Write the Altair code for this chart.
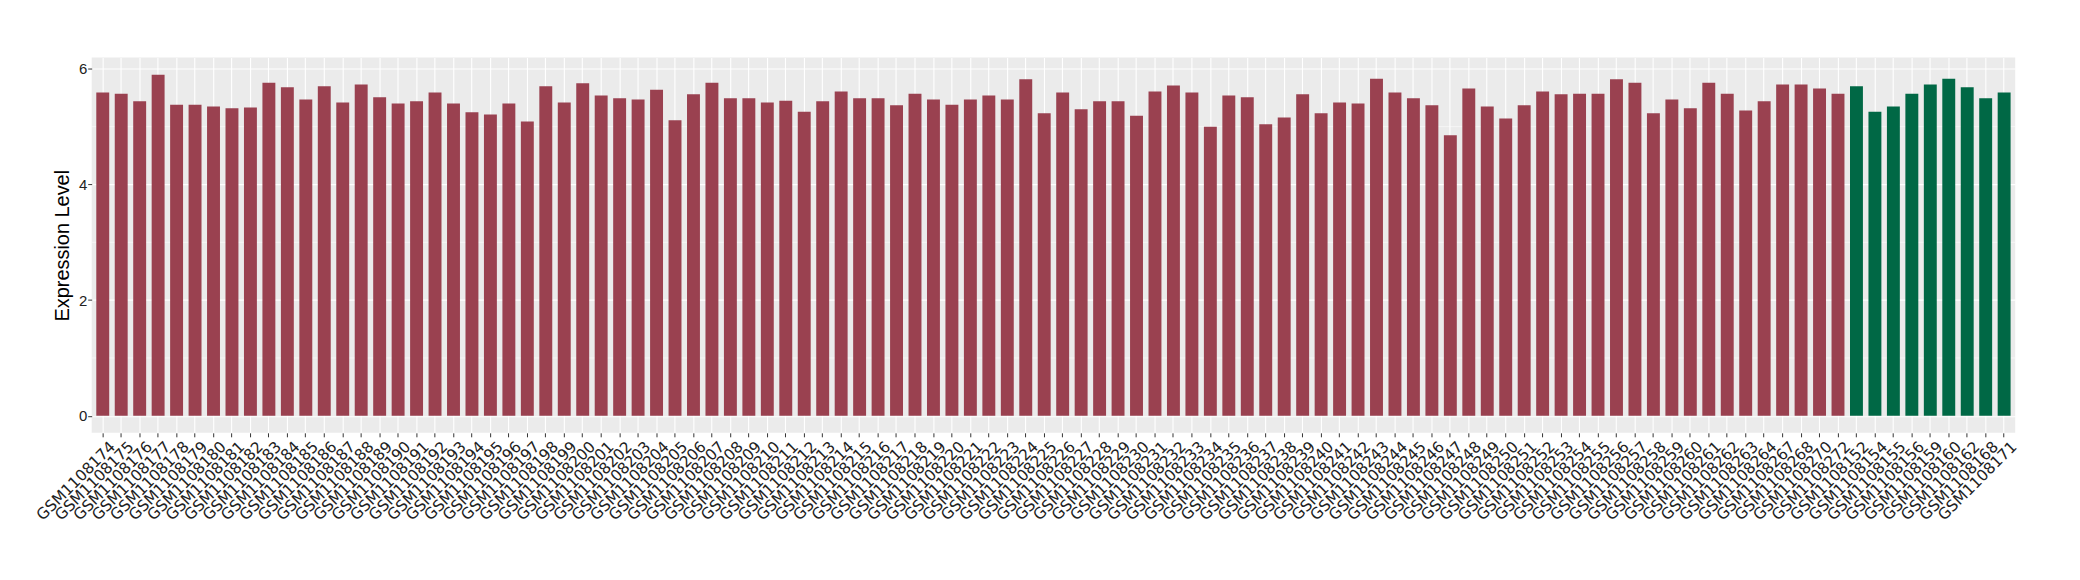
import altair as alt
import pandas as pd

samples = [
    "GSM1108174", "GSM1108175", "GSM1108176", "GSM1108177", "GSM1108178", "GSM1108179",
    "GSM1108180", "GSM1108181", "GSM1108182", "GSM1108183", "GSM1108184", "GSM1108185",
    "GSM1108186", "GSM1108187", "GSM1108188", "GSM1108189", "GSM1108190", "GSM1108191",
    "GSM1108192", "GSM1108193", "GSM1108194", "GSM1108195", "GSM1108196", "GSM1108197",
    "GSM1108198", "GSM1108199", "GSM1108200", "GSM1108201", "GSM1108202", "GSM1108203",
    "GSM1108204", "GSM1108205", "GSM1108206", "GSM1108207", "GSM1108208", "GSM1108209",
    "GSM1108210", "GSM1108211", "GSM1108212", "GSM1108213", "GSM1108214", "GSM1108215",
    "GSM1108216", "GSM1108217", "GSM1108218", "GSM1108219", "GSM1108220", "GSM1108221",
    "GSM1108222", "GSM1108223", "GSM1108224", "GSM1108225", "GSM1108226", "GSM1108227",
    "GSM1108228", "GSM1108229", "GSM1108230", "GSM1108231", "GSM1108232", "GSM1108233",
    "GSM1108234", "GSM1108235", "GSM1108236", "GSM1108237", "GSM1108238", "GSM1108239",
    "GSM1108240", "GSM1108241", "GSM1108242", "GSM1108243", "GSM1108244", "GSM1108245",
    "GSM1108246", "GSM1108247", "GSM1108248", "GSM1108249", "GSM1108250", "GSM1108251",
    "GSM1108252", "GSM1108253", "GSM1108254", "GSM1108255", "GSM1108256", "GSM1108257",
    "GSM1108258", "GSM1108259", "GSM1108260", "GSM1108261", "GSM1108262", "GSM1108263",
    "GSM1108264", "GSM1108267", "GSM1108268", "GSM1108270", "GSM1108272",
    "GSM1108152", "GSM1108154", "GSM1108155", "GSM1108156", "GSM1108159", "GSM1108160",
    "GSM1108162", "GSM1108168", "GSM1108171",
]

values = [
    5.59, 5.57, 5.44, 5.90, 5.38, 5.38, 5.35, 5.32, 5.33, 5.76, 5.68, 5.47,
    5.70, 5.42, 5.73, 5.51, 5.40, 5.44, 5.59, 5.40, 5.25, 5.21, 5.40, 5.09,
    5.70, 5.42, 5.75, 5.54, 5.49, 5.47, 5.64, 5.11, 5.56, 5.76, 5.49, 5.49,
    5.42, 5.45, 5.26, 5.44, 5.61, 5.49, 5.49, 5.37, 5.57, 5.47, 5.38, 5.47,
    5.54, 5.47, 5.82, 5.23, 5.59, 5.30, 5.44, 5.44, 5.19, 5.61, 5.71, 5.59,
    5.00, 5.54, 5.51, 5.04, 5.16, 5.56, 5.23, 5.42, 5.40, 5.83, 5.59, 5.49,
    5.37, 4.85, 5.66, 5.35, 5.14, 5.37, 5.61, 5.56, 5.57, 5.57, 5.82, 5.76,
    5.23, 5.47, 5.32, 5.76, 5.57, 5.28, 5.44, 5.73, 5.73, 5.66, 5.57,
    5.70, 5.26, 5.35, 5.57, 5.73, 5.83, 5.68, 5.49, 5.59,
]

groups = ["A"] * 95 + ["B"] * 9
group_colors = ["#9A4150", "#006845"]
y_ticks = [0, 2, 4, 6]
minor_ticks = [1, 3, 5]

df = pd.DataFrame({"sample": samples, "value": values, "group": groups})
minor_df = pd.DataFrame({"m": minor_ticks})

FONT = "Liberation Sans"
XFONT = "DejaVu Sans"

x_enc = alt.X(
    "sample:N",
    sort=samples,
    title=None,
    scale=alt.Scale(paddingInner=0.3, paddingOuter=0.25),
    axis=alt.Axis(
        bandPosition=0.5,
        labelAngle=-45,
        labelAlign="right",
        labelBaseline="top",
        labelFontSize=15.5,
        labelColor="#222222",
        labelFont=XFONT,
        labelPadding=2,
        labelOffset=5,
        labelOverlap=False,
        labelLimit=0,
        tickSize=4,
        tickColor="#333333",
        tickWidth=1,
        domain=False,
        grid=True,
        gridColor="white",
        gridWidth=1.1,
    ),
)

y_scale = alt.Scale(domain=[-0.295, 6.195], nice=False, zero=False)

bars = alt.Chart(df).mark_bar().encode(
    x=x_enc,
    y=alt.Y(
        "value:Q",
        scale=y_scale,
        title="Expression Level",
        axis=alt.Axis(
            values=y_ticks,
            format="d",
            labelFontSize=15,
            labelColor="#222222",
            labelFont=FONT,
            labelPadding=1,
            tickSize=4,
            tickColor="#333333",
            tickWidth=1,
            domain=False,
            grid=True,
            gridColor="white",
            gridWidth=1.1,
            titleFont=FONT,
            titleFontSize=20,
            titleFontWeight="normal",
            titleColor="black",
            titlePadding=6,
        ),
    ),
    y2=alt.datum(0),
    color=alt.Color("group:N", scale=alt.Scale(domain=["A", "B"], range=group_colors), legend=None),
)

minor = alt.Chart(minor_df).mark_rule(color="white", strokeWidth=0.55).encode(
    y=alt.Y("m:Q", scale=y_scale)
)

chart = alt.layer(minor, bars).properties(
    width=1931,
    height=376.7,
    autosize=alt.AutoSizeParams(type="none"),
    padding={"left": 84, "top": 48.7, "right": 57, "bottom": 130},
).configure_view(fill="#EBEBEB", stroke=None)

chart.save("out.html", embed_options={"renderer": "svg", "actions": False})
